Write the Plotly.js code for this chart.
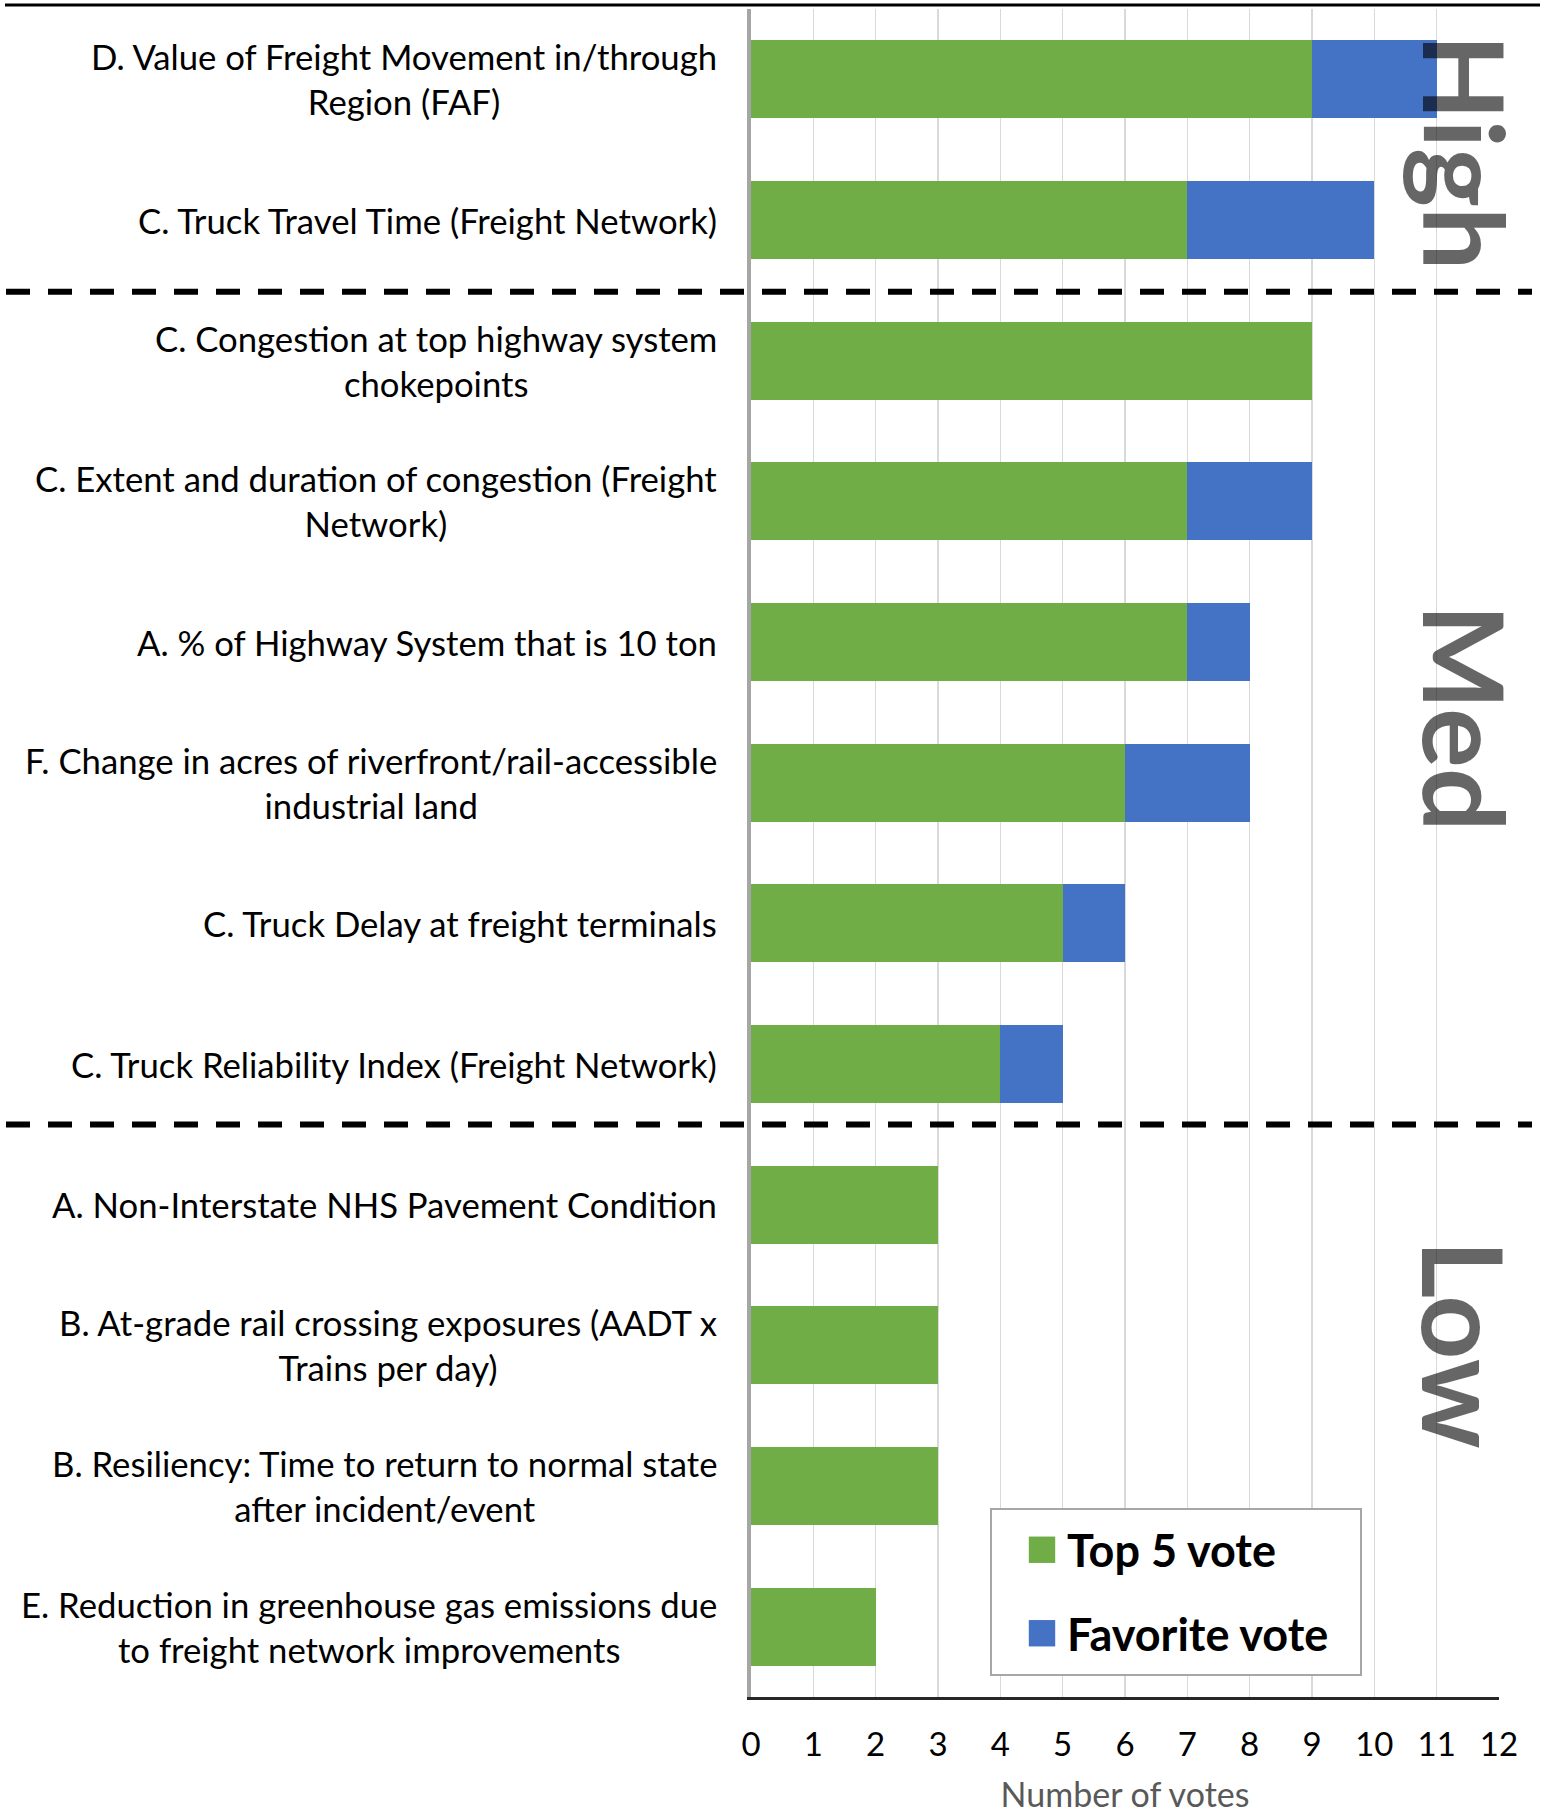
<!DOCTYPE html>
<html><head><meta charset="utf-8">
<script src="https://cdn.plot.ly/plotly-3.0.1.min.js"></script>
<style>html,body{margin:0;padding:0;background:#fff}</style>
</head><body>
<div id="chart" style="width:1556px;height:1814px"></div>
<script>
// ---- data ----
const categories = [
  "D. Value of Freight Movement in/through<br>Region (FAF)",
  "C. Truck Travel Time (Freight Network)",
  "C. Congestion at top highway system<br>chokepoints",
  "C. Extent and duration of congestion (Freight<br>Network)",
  "A. % of Highway System that is 10 ton",
  "F. Change in acres of riverfront/rail-accessible<br>industrial land",
  "C. Truck Delay at freight terminals",
  "C. Truck Reliability Index (Freight Network)",
  "A. Non-Interstate NHS Pavement Condition",
  "B. At-grade rail crossing exposures (AADT x<br>Trains per day)",
  "B. Resiliency: Time to return to normal state<br>after incident/event",
  "E. Reduction in greenhouse gas emissions due<br>to freight network improvements"
];
const top5Votes     = [9, 7, 9, 7, 7, 6, 5, 4, 3, 3, 3, 2];
const favoriteVotes = [2, 3, 0, 2, 1, 2, 1, 1, 0, 0, 0, 0];
const tierNames = ["High", "Med", "Low"];
const tierSizes = [2, 6, 4];
const xTickVals = [0,1,2,3,4,5,6,7,8,9,10,11,12];
const seriesNames = ["Top 5 vote", "Favorite vote"];

// ---- layout helpers (pixel -> paper) ----
const W = 1556, H = 1814;
const M = {l: 751, r: 57, t: 9, b: 117};
const PW = W - M.l - M.r, PH = H - M.t - M.b;
const xp = px => (px - M.l) / PW;
const yp = py => (H - M.b - py) / PH;

const FONT = "Lato, 'Liberation Sans', sans-serif";

const data = [
  {type: "bar", orientation: "h", name: seriesNames[0], legendgroup: "a",
   y: categories, x: top5Votes, marker: {color: "#70ad47", line: {width: 0}},
   hoverinfo: "skip"},
  {type: "bar", orientation: "h", name: seriesNames[1], legendgroup: "b",
   y: categories, x: favoriteVotes, marker: {color: "#4472c4", line: {width: 0}},
   hoverinfo: "skip"}
];

// category labels (centered multi-line, right edge near the axis)
const annotations = categories.map(c => ({
  xref: "paper", yref: "y", x: xp(718.5), y: c, xanchor: "right", yanchor: "middle",
  align: "center", showarrow: false, text: c,
  font: {family: FONT, size: 34.7, color: "#000"}
}));

// tier labels
const tierY = [152, 717, 1344];
tierNames.forEach((t, i) => {
  annotations.push({
    xref: "paper", yref: "paper", x: xp(1466), y: yp(tierY[i]),
    xanchor: "center", yanchor: "middle", textangle: 90, showarrow: false,
    text: t, font: {family: FONT, size: 112, weight: 700, color: "rgba(0,0,0,0.6)"}
  });
});

// group separator lines
const shapes = [];
let cum = 0;
const sepNudge = [0.01, -0.07];
for (let i = 0; i < tierSizes.length - 1; i++) {
  cum += tierSizes[i];
  const yv = cum - 0.5 + sepNudge[i];
  shapes.push({type: "line", xref: "paper", yref: "y", x0: xp(6), x1: xp(1532), y0: yv, y1: yv,
    line: {color: "#000", width: 6, dash: "24px,18px"}, layer: "above"});
}
// top rule
shapes.push({type: "line", xref: "paper", yref: "paper", x0: xp(5), x1: xp(1540), y0: yp(5), y1: yp(5),
  line: {color: "#000", width: 3}});
// legend box
shapes.push({type: "rect", xref: "paper", yref: "paper", x0: xp(991), x1: xp(1361), y0: yp(1675), y1: yp(1509),
  line: {color: "#a6a6a6", width: 2}, fillcolor: "#fff", layer: "above"});

const layout = {
  width: W, height: H, margin: M,
  paper_bgcolor: "#fff", plot_bgcolor: "#fff",
  barmode: "stack", bargap: 0.446,
  font: {family: FONT, color: "#000"},
  xaxis: {range: [0, 12], tickvals: xTickVals, ticktext: xTickVals.map(String),
    showgrid: true, gridcolor: "#d9d9d9", gridwidth: 1.5, zeroline: false,
    showline: true, linecolor: "#262626", linewidth: 2.5, ticks: "",
    ticklabelstandoff: 17, tickfont: {family: FONT, size: 33, color: "#000"},
    title: {text: "Number of votes", font: {family: FONT, size: 34, color: "#595959"}, standoff: 35},
    fixedrange: true},
  yaxis: {type: "category", categoryorder: "array", categoryarray: categories,
    autorange: "reversed", showticklabels: false, showgrid: false, zeroline: false,
    showline: true, linecolor: "#a6a6a6", linewidth: 4, ticks: "", fixedrange: true},
  showlegend: true,
  legend: {x: xp(1017), y: yp(1514), xanchor: "left", yanchor: "top",
    bgcolor: "rgba(0,0,0,0)", borderwidth: 0, traceorder: "grouped",
    tracegroupgap: 22, itemwidth: 40,
    font: {family: FONT, size: 45, weight: 700, color: "#000"}},
  annotations: annotations, shapes: shapes
};

Plotly.newPlot("chart", data, layout, {staticPlot: true, displayModeBar: false}).then(gd => {
  gd.querySelectorAll(".legend .legendpoints path").forEach(p => {
    const t = p.getAttribute("transform") || "";
    p.setAttribute("transform", t + " scale(2.2)");
  });
});
</script>
</body></html>
